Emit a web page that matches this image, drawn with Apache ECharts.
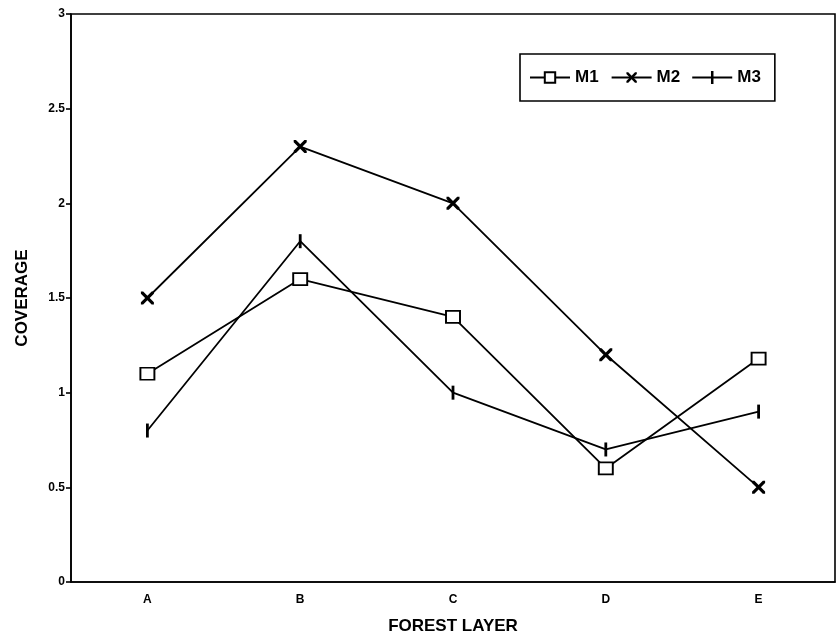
<!DOCTYPE html>
<html><head><meta charset="utf-8">
<script src="https://cdn.jsdelivr.net/npm/echarts@6/dist/echarts.min.js"></script>
<style>html,body{margin:0;padding:0;background:#fff}#c{width:839px;height:644px}</style>
</head><body><div id="c"></div>
<script>
const categories = ['A', 'B', 'C', 'D', 'E'];
const m1 = [1.1, 1.6, 1.4, 0.6, 1.18];
const m2 = [1.5, 2.3, 2.0, 1.2, 0.5];
const m3 = [0.8, 1.8, 1.0, 0.7, 0.9];
const seriesNames = ['M1', 'M2', 'M3'];

const FONT = '"Liberation Sans Narrow", "Liberation Sans", Arial, sans-serif';
const xSym = 'path://M0,0L3.5,0L10,6.5L16.5,0L20,0L20,3.5L13.5,10L20,16.5L20,20L16.5,20L10,13.5L3.5,20L0,20L0,16.5L6.5,10L0,3.5Z';
const barSym = 'path://M0,0L2,0L2,10L0,10Z';
const m3Icon = 'path://M0,5.6L18.75,5.6L18.75,0L21.25,0L21.25,5.6L40,5.6L40,7.4L21.25,7.4L21.25,13L18.75,13L18.75,7.4L0,7.4Z';
const chart = echarts.init(document.getElementById('c'));
const base = {type: 'line', lineStyle: {color: '#000', width: 1.8}, itemStyle: {color: '#000'}, animation: false};
chart.setOption({
  backgroundColor: '#fff',
  grid: {left: 71, top: 14, right: 4, bottom: 62, show: true, borderColor: '#000', borderWidth: 1.6},
  legend: {
    left: 520, top: 54, padding: [15, 14, 15, 9], itemGap: 12, itemWidth: 40, itemHeight: 13,
    borderColor: '#000', borderWidth: 1.6,
    textStyle: {fontFamily: FONT, fontWeight: 'bold', fontSize: 17, color: '#000'},
    data: [seriesNames[0], seriesNames[1], {name: seriesNames[2], icon: m3Icon}]
  },
  xAxis: {
    type: 'category', data: categories,
    name: 'FOREST LAYER', nameLocation: 'middle', nameGap: 36,
    nameTextStyle: {fontFamily: FONT, fontWeight: 'bold', fontSize: 17, color: '#000'},
    axisLine: {lineStyle: {color: '#000', width: 1.6}},
    axisTick: {alignWithLabel: true, length: 8, lineStyle: {color: '#000', width: 1.6}},
    axisLabel: {fontFamily: FONT, fontWeight: 'bold', fontSize: 12, color: '#000', margin: 12}
  },
  yAxis: {
    type: 'value', min: 0, max: 3, interval: 0.5,
    name: 'COVERAGE', nameLocation: 'middle', nameGap: 40, nameRotate: 90,
    nameTextStyle: {fontFamily: FONT, fontWeight: 'bold', fontSize: 17, color: '#000'},
    axisLine: {show: true, lineStyle: {color: '#000', width: 1.6}},
    axisTick: {show: true, length: 5, lineStyle: {color: '#000', width: 1.6}},
    splitLine: {show: false},
    axisLabel: {fontFamily: FONT, fontWeight: 'bold', fontSize: 12, color: '#000', margin: 6,
      formatter: v => String(v)}
  },
  series: [
    Object.assign({}, base, {name: 'M1', data: m1, symbol: 'rect', symbolSize: [14, 12],
      itemStyle: {color: '#fff', borderColor: '#000', borderWidth: 1.8}}),
    Object.assign({}, base, {name: 'M2', data: m2, symbol: xSym, symbolSize: 13}),
    Object.assign({}, base, {name: 'M3', data: m3, symbol: barSym, symbolKeepAspect: true, symbolSize: 14})
  ]
});
</script></body></html>
